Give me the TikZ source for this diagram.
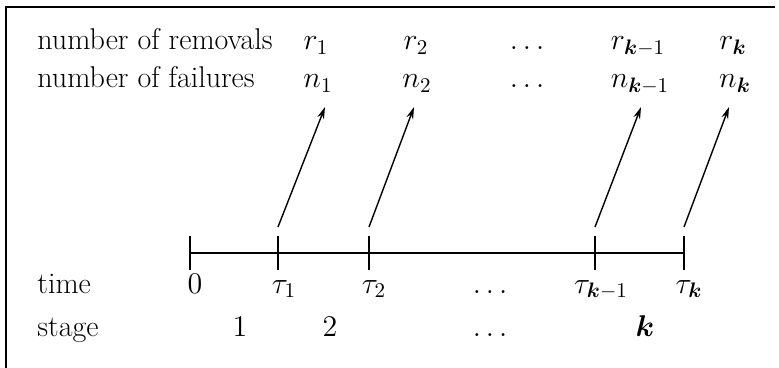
\documentclass[tikz,border=0pt]{standalone}
\usepackage{fix-cm}
\usepackage{bm}
\usetikzlibrary{arrows.meta}
\begin{document}
\begin{tikzpicture}[x=0.5pt,y=-0.5pt,
  lab/.style={anchor=base west,inner sep=0pt,font=\fontsize{15}{18}\selectfont},
  sym/.style={anchor=base,inner sep=0pt,font=\fontsize{15}{18}\selectfont},
  axisline/.style={line width=1pt},
  framel/.style={line width=1.3pt},
  arr/.style={line width=0.7pt,-{Stealth[length=6pt,width=3.5pt]}}]
\useasboundingbox (0,0) rectangle (779,368);
% frame
\draw[framel] (6,368) -- (6,7) -- (775,7);
% row labels
\node[lab] (lrem) at (37,50) {number of removals};
\node[lab] (lfail) at (37,88) {number of failures};
\node[lab] (ltime) at (37,293) {time};
\node[lab] (lstage) at (37,336) {stage};
% removals
\node[sym] (r1) at (316,50) {$r_1$};
\node[sym] (r2) at (416,50) {$r_2$};
\node[sym] (rd) at (527,50) {$\dots$};
\node[sym] (rk1) at (638,50) {$r_{\bm{k}-1}$};
\node[sym] (rk) at (733,50) {$r_{\bm{k}}$};
% failures
\node[sym] (n1) at (318,88) {$n_1$};
\node[sym] (n2) at (417,88) {$n_2$};
\node[sym] (nd) at (527,88) {$\dots$};
\node[sym] (nk1) at (640,88) {$n_{\bm{k}-1}$};
\node[sym] (nk) at (735,88) {$n_{\bm{k}}$};
% axis
\coordinate (t0) at (190,253);
\coordinate (t1) at (278,253);
\coordinate (t2) at (369,253);
\coordinate (tk1) at (595,253);
\coordinate (tk) at (684,253);
\draw[axisline] (t0) -- (tk);
\foreach \t in {t0,t1,t2,tk1,tk}
  \draw[axisline] ([yshift=8.5pt]\t) -- ([yshift=-8.5pt]\t);
% time labels
\node[sym] (z0) at (195,293) {$0$};
\node[sym] (tau1) at (284,293) {$\tau_1$};
\node[sym] (tau2) at (374,293) {$\tau_2$};
\node[sym] (taud) at (490,293) {$\dots$};
\node[sym] (tauk1) at (601,293) {$\tau_{\bm{k}-1}$};
\node[sym] (tauk) at (689,293) {$\tau_{\bm{k}}$};
% stage labels
\node[sym] (s1) at (240,336) {$1$};
\node[sym] (s2) at (330,336) {$2$};
\node[sym] (sd) at (490,336) {$\dots$};
\node[sym] (sk) at (645,336) {$\bm{k}$};
% arrows
\coordinate (a1) at (278,227);
\coordinate (a2) at (369,227);
\coordinate (ak1) at (595,227);
\coordinate (ak) at (684,227);
\coordinate (e1) at (325,107);
\coordinate (e2) at (414,107);
\coordinate (ek1) at (641,107);
\coordinate (ek) at (729,107);
\draw[arr] (a1) -- (e1);
\draw[arr] (a2) -- (e2);
\draw[arr] (ak1) -- (ek1);
\draw[arr] (ak) -- (ek);
\end{tikzpicture}
\end{document}
